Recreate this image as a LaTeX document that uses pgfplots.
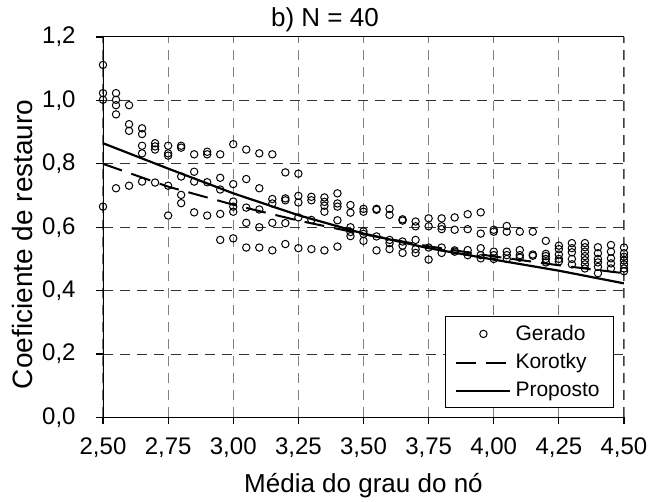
\documentclass[border=0pt]{standalone}
\usepackage{fontspec}
\setmainfont{Liberation Sans}
\usepackage{pgfplots}
\pgfplotsset{compat=1.18}
\pgfplotsset{
  mylinelegend/.style={legend image code/.code={\draw[##1] (0pt,0pt) -- (27pt,0pt);}},
  mymarklegend/.style={legend image code/.code={\draw[mark repeat=2,mark phase=2,##1] plot coordinates {(0pt,0pt) (13.5pt,0pt) (27pt,0pt)};}},
}
\begin{document}
\begin{tikzpicture}
\path[use as bounding box] (-51.5pt,-42.25pt) rectangle (273.5pt,208.75pt);
\begin{axis}[
  at={(0,0)}, anchor=south west,
  scale only axis, width=260.5pt, height=190.25pt,
  xmin=2.5, xmax=4.5, ymin=0, ymax=1.2,
  xtick={2.5,2.75,3,3.25,3.5,3.75,4,4.25,4.5},
  ytick={0,0.2,0.4,0.6,0.8,1,1.2},
  /pgf/number format/assume math mode=true,
  xticklabel style={/pgf/number format/.cd, fixed, fixed zerofill, precision=2, use comma, /tikz/.cd, anchor=north, inner sep=0pt, yshift=-6.5pt},
  yticklabel style={/pgf/number format/.cd, fixed, fixed zerofill, precision=1, use comma, /tikz/.cd, anchor=east, inner sep=0pt, xshift=-10pt},
  ticklabel style={font=\fontsize{12}{14}\selectfont},
  tick pos=left, tick align=outside, major tick length=3.5pt,
  tick style={black, line width=0.6pt},
  grid=major,
  x grid style={dash pattern=on 5pt off 3.5pt, black!50, line width=0.6pt},
  y grid style={dash pattern=on 5pt off 3.5pt, black!80, line width=0.5pt},
  axis line style={draw=none},
  every axis title shift=0pt,
  title={b) N = 40},
  title style={at={(axis description cs:0.4261,1.0263)}, anchor=base, font=\fontsize{13}{15}\selectfont},
  xlabel={Média do grau do nó},
  xlabel style={at={(axis description cs:0.5,-0.197)}, anchor=base, font=\fontsize{13}{15}\selectfont},
  ylabel={Coeficiente de restauro},
  ylabel style={at={(axis description cs:-0.1344,0.4553)}, anchor=base, font=\fontsize{14}{16}\selectfont},
  legend style={at={(rel axis cs:0.981,0.025)}, anchor=south east, draw=black, line width=0.5pt,
    font=\fontsize{10.5}{12}\selectfont, inner xsep=5pt, inner ysep=2pt, row sep=1.2pt},
  legend cell align=left,
]
\draw[black, line width=0.5pt] (rel axis cs:0,1) -- (rel axis cs:1,1);
\draw[black!75, line width=0.8pt, dash pattern=on 5pt off 3.5pt] (rel axis cs:1,0) -- (rel axis cs:1,1);

\addplot[only marks, mark=o, mark size=1.85pt, mark options={black, line width=0.5pt}, mymarklegend]
coordinates {
(2.50,1.112) (2.50,1.023) (2.50,1.002) (2.50,0.665)
(2.55,1.023) (2.55,1.002) (2.55,0.985) (2.55,0.956) (2.55,0.723)
(2.60,0.985) (2.60,0.925) (2.60,0.904) (2.60,0.731)
(2.65,0.912) (2.65,0.894) (2.65,0.857) (2.65,0.833) (2.65,0.744)
(2.70,0.865) (2.70,0.855) (2.70,0.845) (2.70,0.741)
(2.75,0.857) (2.75,0.833) (2.75,0.826) (2.75,0.731) (2.75,0.637)
(2.80,0.857) (2.80,0.851) (2.80,0.760) (2.80,0.702) (2.80,0.676)
(2.85,0.830) (2.85,0.775) (2.85,0.744) (2.85,0.647)
(2.90,0.838) (2.90,0.830) (2.90,0.742) (2.90,0.637)
(2.95,0.830) (2.95,0.756) (2.95,0.719) (2.95,0.642) (2.95,0.560)
(3.00,0.862) (3.00,0.736) (3.00,0.681) (3.00,0.665) (3.00,0.649) (3.00,0.565)
(3.05,0.845) (3.05,0.752) (3.05,0.662) (3.05,0.614) (3.05,0.536)
(3.10,0.833) (3.10,0.723) (3.10,0.656) (3.10,0.600) (3.10,0.536)
(3.15,0.830) (3.15,0.689) (3.15,0.675) (3.15,0.614) (3.15,0.527)
(3.20,0.773) (3.20,0.691) (3.20,0.685) (3.20,0.613) (3.20,0.547)
(3.25,0.769) (3.25,0.699) (3.25,0.678) (3.25,0.631) (3.25,0.534)
(3.30,0.696) (3.30,0.685) (3.30,0.623) (3.30,0.531)
(3.35,0.694) (3.35,0.680) (3.35,0.668) (3.35,0.649) (3.35,0.527)
(3.40,0.707) (3.40,0.675) (3.40,0.665) (3.40,0.622) (3.40,0.539)
(3.45,0.670) (3.45,0.646) (3.45,0.600) (3.45,0.585) (3.45,0.572)
(3.50,0.658) (3.50,0.649) (3.50,0.587) (3.50,0.579) (3.50,0.557)
(3.55,0.658) (3.55,0.655) (3.55,0.571) (3.55,0.527)
(3.60,0.658) (3.60,0.639) (3.60,0.560) (3.60,0.550) (3.60,0.531)
(3.65,0.625) (3.65,0.621) (3.65,0.555) (3.65,0.542) (3.65,0.519)
(3.70,0.618) (3.70,0.603) (3.70,0.560) (3.70,0.531) (3.70,0.519)
(3.75,0.628) (3.75,0.603) (3.75,0.536) (3.75,0.498)
(3.80,0.628) (3.80,0.603) (3.80,0.594) (3.80,0.536) (3.80,0.519)
(3.85,0.631) (3.85,0.592) (3.85,0.527) (3.85,0.523)
(3.90,0.641) (3.90,0.594) (3.90,0.528) (3.90,0.512)
(3.95,0.647) (3.95,0.580) (3.95,0.534) (3.95,0.512) (3.95,0.502)
(4.00,0.592) (4.00,0.586) (4.00,0.523) (4.00,0.512) (4.00,0.500)
(4.05,0.604) (4.05,0.586) (4.05,0.523) (4.05,0.512) (4.05,0.500)
(4.10,0.586) (4.10,0.528) (4.10,0.512) (4.10,0.504)
(4.15,0.586) (4.15,0.514) (4.15,0.510)
(4.20,0.557) (4.20,0.516) (4.20,0.509) (4.20,0.500) (4.20,0.489)
(4.25,0.542) (4.25,0.531) (4.25,0.514) (4.25,0.500) (4.25,0.492)
(4.30,0.550) (4.30,0.534) (4.30,0.521) (4.30,0.500) (4.30,0.483)
(4.35,0.550) (4.35,0.537) (4.35,0.523) (4.35,0.509) (4.35,0.496) (4.35,0.483) (4.35,0.470)
(4.40,0.537) (4.40,0.518) (4.40,0.500) (4.40,0.489) (4.40,0.475) (4.40,0.455)
(4.45,0.544) (4.45,0.523) (4.45,0.502) (4.45,0.486) (4.45,0.470)
(4.50,0.536) (4.50,0.518) (4.50,0.507) (4.50,0.495) (4.50,0.483) (4.50,0.470) (4.50,0.461)
};
\addlegendentry{Gerado}

\addplot[black, line width=1pt, dash pattern=on 10pt off 5pt, mark=none, mylinelegend]
coordinates {
(2.50,0.800) (2.75,0.728) (3.00,0.671) (3.25,0.621) (3.50,0.578)
(3.75,0.540) (4.00,0.508) (4.25,0.480) (4.50,0.455)
};
\addlegendentry{Korotky}

\addplot[black, line width=1.1pt, mark=none, mylinelegend]
coordinates {
(2.50,0.865) (2.75,0.785) (3.00,0.707) (3.25,0.638) (3.50,0.580)
(3.75,0.534) (4.00,0.498) (4.25,0.463) (4.50,0.423)
};
\addlegendentry{Proposto}

\draw[black, line width=0.85pt] (rel axis cs:0,1) -- (rel axis cs:0,0) -- (rel axis cs:1,0);
\end{axis}
\end{tikzpicture}
\end{document}
